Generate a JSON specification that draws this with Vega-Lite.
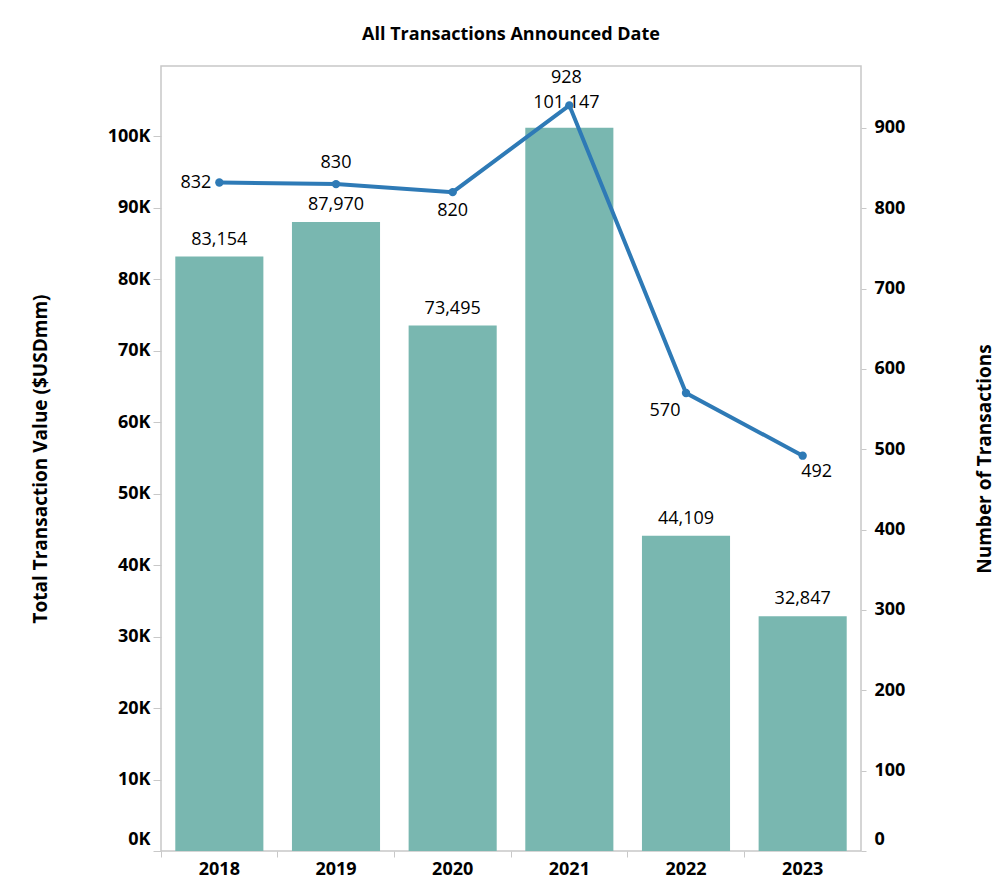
{
  "$schema": "https://vega.github.io/schema/vega-lite/v6.json",
  "autosize": "none",
  "width": 700,
  "height": 785,
  "padding": {"left": 161, "top": 66, "right": 142, "bottom": 30},
  "background": "white",
  "title": {"text": "All Transactions Announced Date", "font": "Open Sans", "fontSize": 18, "fontWeight": "bold", "color": "#000000", "anchor": "middle", "offset": 22},
  "data": {"values": [
    {"year": "2018", "value": 83154, "count": 832},
    {"year": "2019", "value": 87970, "count": 830},
    {"year": "2020", "value": 73495, "count": 820},
    {"year": "2021", "value": 101147, "count": 928},
    {"year": "2022", "value": 44109, "count": 570},
    {"year": "2023", "value": 32847, "count": 492}
  ]},
  "config": {
    "view": {"stroke": "#c8c8c8", "strokeWidth": 1.5},
    "axis": {"labelFont": "Open Sans", "labelFontWeight": "bold", "labelFontSize": 18, "labelColor": "#000000", "titleFont": "Open Sans", "titleFontWeight": "bold", "titleFontSize": 19, "titleColor": "#000000", "tickColor": "#c8c8c8", "domain": false, "grid": false},
    "text": {"font": "Open Sans", "fontSize": 18, "color": "#000000"}
  },
  "encoding": {
    "x": {"field": "year", "type": "ordinal", "scale": {"paddingInner": 0, "paddingOuter": 0},
      "axis": {"title": null, "labelAngle": 0, "bandPosition": 0, "tickSize": 6, "labelPadding": 3}}
  },
  "layer": [
    {
      "encoding": {
        "y": {"field": "value", "type": "quantitative", "scale": {"domain": [0, 109800], "nice": false},
          "axis": {"title": "Total Transaction Value ($USDmm)", "orient": "left", "values": [0,10000,20000,30000,40000,50000,60000,70000,80000,90000,100000], "labelExpr": "datum.value/1000 + 'K'", "tickSize": 8, "labelPadding": 3, "titlePadding": 57, "labelFlush": 5, "labelFlushOffset": -3}}
      },
      "layer": [
        {"mark": {"type": "bar", "color": "#79b7b0", "width": {"band": 0.755}}},
        {"transform": [{"filter": "datum.year != '2021'"}], "mark": {"type": "text", "baseline": "middle", "dy": -17}, "encoding": {"text": {"field": "value", "type": "quantitative", "format": ","}}},
        {"transform": [{"filter": "datum.year == '2021'"}], "mark": {"type": "text", "baseline": "middle", "dy": -25, "dx": -3}, "encoding": {"text": {"field": "value", "type": "quantitative", "format": ","}}}
      ]
    },
    {
      "encoding": {
        "y": {"field": "count", "type": "quantitative", "scale": {"domain": [0, 977], "nice": false},
          "axis": {"title": "Number of Transactions", "orient": "right", "titleAngle": 270, "values": [0,100,200,300,400,500,600,700,800,900], "tickSize": 5, "labelPadding": 8, "titlePadding": 90, "labelFlush": 5, "labelFlushOffset": -3}}
      },
      "layer": [
        {"mark": {"type": "line", "color": "#2e7ab6", "strokeWidth": 4, "point": {"filled": true, "color": "#2e7ab6", "size": 70}}},
        {"transform": [{"filter": "datum.year == '2018'"}], "mark": {"type": "text", "align": "right", "baseline": "middle", "dx": -8}, "encoding": {"text": {"field": "count", "type": "quantitative"}}},
        {"transform": [{"filter": "datum.year == '2019'"}], "mark": {"type": "text", "baseline": "middle", "dy": -21}, "encoding": {"text": {"field": "count", "type": "quantitative"}}},
        {"transform": [{"filter": "datum.year == '2020'"}], "mark": {"type": "text", "baseline": "middle", "dy": 19}, "encoding": {"text": {"field": "count", "type": "quantitative"}}},
        {"transform": [{"filter": "datum.year == '2021'"}], "mark": {"type": "text", "baseline": "middle", "dy": -27, "dx": -3}, "encoding": {"text": {"field": "count", "type": "quantitative"}}},
        {"transform": [{"filter": "datum.year == '2022'"}], "mark": {"type": "text", "baseline": "middle", "dy": 18, "dx": -21}, "encoding": {"text": {"field": "count", "type": "quantitative"}}},
        {"transform": [{"filter": "datum.year == '2023'"}], "mark": {"type": "text", "baseline": "middle", "dy": 16, "dx": 14}, "encoding": {"text": {"field": "count", "type": "quantitative"}}}
      ]
    }
  ],
  "resolve": {"scale": {"y": "independent"}}
}
